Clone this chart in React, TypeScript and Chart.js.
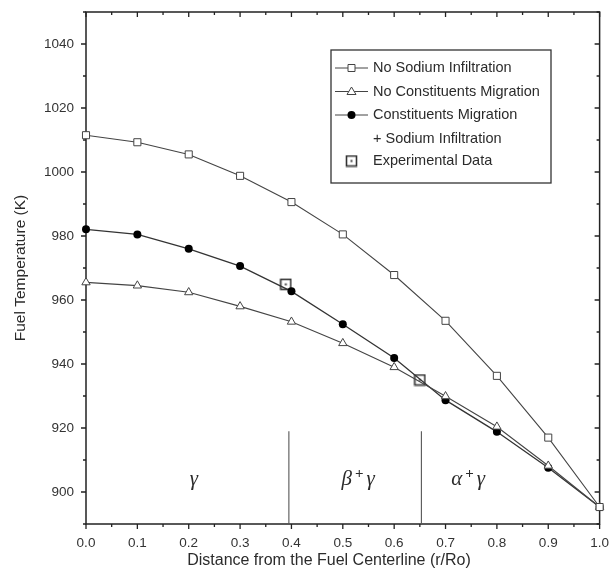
import React, { useEffect, useRef } from 'react';
import { Chart, registerables } from 'chart.js';
Chart.register(...registerables);

const positions = [0.0, 0.1, 0.2, 0.3, 0.4, 0.5, 0.6, 0.7, 0.8, 0.9, 1.0];
const noSodium = [1011.5, 1009.3, 1005.5, 998.8, 990.6, 980.5, 967.8, 953.5, 936.3, 917.0, 895.3];
const noMigration = [965.5, 964.5, 962.4, 958.0, 953.2, 946.5, 939.0, 929.9, 920.4, 908.2, 895.3];
const migrationSodium = [982.1, 980.5, 976.0, 970.6, 962.7, 952.4, 941.9, 928.7, 918.8, 907.6, 895.3];
const expX = [0.389, 0.65];
const expT = [964.9, 935.0];
const boundaryX = [0.395, 0.653];
const boundaryTop = 919;
const yMin = 890;
const yMax = 1050;
const xTickValues = [0, 0.1, 0.2, 0.3, 0.4, 0.5, 0.6, 0.7, 0.8, 0.9, 1.0];
const xMinorValues = [0.05, 0.15, 0.25, 0.35, 0.45, 0.55, 0.65, 0.75, 0.85, 0.95];
const yTickValues = [900, 920, 940, 960, 980, 1000, 1020, 1040];
const yMinorValues = [890, 910, 930, 950, 970, 990, 1010, 1030, 1050];
const phaseLeft = ['γ', 'β', 'α'];
const phaseHasPlus = [false, true, true];
const phaseCenters = [0.21, 0.53, 0.744];
const phaseT = 904;
const legendLabels = ['No Sodium Infiltration', 'No Constituents Migration', 'Constituents Migration', '+ Sodium Infiltration', 'Experimental Data'];

const SANS = "'Liberation Sans', Arial, sans-serif";
const SERIF = "'Liberation Serif', 'Times New Roman', serif";
const INK = '#2b2b2b';
const LINE = '#444';

function makeExpMarker(): HTMLCanvasElement {
  const c = document.createElement('canvas');
  c.width = 13; c.height = 13;
  const g = c.getContext('2d')!;
  g.strokeStyle = '#333';
  g.lineWidth = 1.6;
  g.strokeRect(1.5, 1.5, 10, 10);
  g.fillStyle = '#444';
  g.fillRect(5.5, 5.5, 2, 2);
  return c;
}

function drawSquare(ctx: CanvasRenderingContext2D, x: number, y: number) {
  ctx.save();
  ctx.fillStyle = '#fff'; ctx.strokeStyle = LINE; ctx.lineWidth = 1;
  ctx.beginPath(); ctx.rect(x - 3.5, y - 3.5, 7, 7); ctx.fill(); ctx.stroke();
  ctx.restore();
}
function drawTriangle(ctx: CanvasRenderingContext2D, x: number, y: number) {
  ctx.save();
  ctx.fillStyle = '#fff'; ctx.strokeStyle = LINE; ctx.lineWidth = 1;
  ctx.beginPath(); ctx.moveTo(x, y - 4.5); ctx.lineTo(x + 4.5, y + 3); ctx.lineTo(x - 4.5, y + 3); ctx.closePath(); ctx.fill(); ctx.stroke();
  ctx.restore();
}
function drawDot(ctx: CanvasRenderingContext2D, x: number, y: number) {
  ctx.save();
  ctx.fillStyle = '#000';
  ctx.beginPath(); ctx.arc(x, y, 4, 0, Math.PI * 2); ctx.fill();
  ctx.restore();
}

const framePlugin = {
  id: 'frame',
  beforeDatasetsDraw(chart: any) {
    const ctx: CanvasRenderingContext2D = chart.ctx;
    const { left, right, top, bottom } = chart.chartArea;
    const xs = chart.scales.x;
    const ys = chart.scales.y;
    ctx.save();
    ctx.strokeStyle = '#222';
    ctx.lineWidth = 1.5;
    ctx.strokeRect(left, top, right - left, bottom - top);
    ctx.lineWidth = 1.3;
    ctx.beginPath();
    xTickValues.forEach(v => {
      const px = xs.getPixelForValue(v);
      ctx.moveTo(px, bottom); ctx.lineTo(px, bottom + 5);
      ctx.moveTo(px, top); ctx.lineTo(px, top + 5);
    });
    xMinorValues.forEach(v => {
      const px = xs.getPixelForValue(v);
      ctx.moveTo(px, bottom); ctx.lineTo(px, bottom + 3);
      ctx.moveTo(px, top); ctx.lineTo(px, top + 3);
    });
    yTickValues.forEach(v => {
      const py = ys.getPixelForValue(v);
      ctx.moveTo(left, py); ctx.lineTo(left - 5, py);
      ctx.moveTo(right, py); ctx.lineTo(right - 5, py);
    });
    yMinorValues.forEach(v => {
      const py = ys.getPixelForValue(v);
      ctx.moveTo(left, py); ctx.lineTo(left - 3, py);
      ctx.moveTo(right, py); ctx.lineTo(right - 3, py);
    });
    ctx.stroke();
    ctx.restore();
  },
  afterDraw(chart: any) {
    const ctx: CanvasRenderingContext2D = chart.ctx;
    const { top, bottom } = chart.chartArea;
    const xs = chart.scales.x;
    const ys = chart.scales.y;
    ctx.save();
    // axis titles
    ctx.fillStyle = INK;
    ctx.font = `16px ${SANS}`;
    ctx.textAlign = 'center';
    ctx.textBaseline = 'middle';
    ctx.fillText('Distance from the Fuel Centerline (r/Ro)', 329, 561);
    ctx.font = `15.5px ${SANS}`;
    ctx.save();
    ctx.translate(21, (top + bottom) / 2);
    ctx.rotate(-Math.PI / 2);
    ctx.fillText('Fuel Temperature (K)', 0, 0);
    ctx.restore();

    // phase labels
    phaseLeft.forEach((ch, i) => {
      const cx = xs.getPixelForValue(phaseCenters[i]);
      const cy = ys.getPixelForValue(phaseT);
      ctx.textBaseline = 'middle';
      if (!phaseHasPlus[i]) {
        ctx.font = `italic 21px ${SERIF}`;
        ctx.textAlign = 'center';
        ctx.fillText(ch, cx, cy);
      } else {
        ctx.font = `italic 21px ${SERIF}`;
        const w1 = ctx.measureText(ch).width;
        const w3 = ctx.measureText('γ').width;
        ctx.font = `bold 15px ${SERIF}`;
        const w2 = ctx.measureText('+').width;
        const gap = 3;
        const total = w1 + w2 + w3 + gap * 2;
        let x0 = cx - total / 2;
        ctx.textAlign = 'left';
        ctx.font = `italic 21px ${SERIF}`;
        ctx.fillText(ch, x0, cy);
        x0 += w1 + gap;
        ctx.font = `bold 15px ${SERIF}`;
        ctx.fillText('+', x0, cy - 5);
        x0 += w2 + gap;
        ctx.font = `italic 21px ${SERIF}`;
        ctx.fillText('γ', x0, cy);
      }
    });

    // legend
    const bx = 331, by = 50, bw = 220, bh = 133;
    ctx.fillStyle = '#fff';
    ctx.fillRect(bx, by, bw, bh);
    ctx.strokeStyle = '#333';
    ctx.lineWidth = 1.3;
    ctx.strokeRect(bx, by, bw, bh);
    const rows = [68, 91.5, 115, 138.5, 161];
    ctx.strokeStyle = LINE;
    ctx.lineWidth = 1;
    for (let i = 0; i < 3; i++) {
      ctx.beginPath(); ctx.moveTo(335, rows[i]); ctx.lineTo(368, rows[i]); ctx.stroke();
    }
    drawSquare(ctx, 351.5, rows[0]);
    drawTriangle(ctx, 351.5, rows[1]);
    drawDot(ctx, 351.5, rows[2]);
    ctx.drawImage(makeExpMarker(), 351.5 - 6.5, rows[4] - 6.5);
    ctx.fillStyle = INK;
    ctx.font = `14.5px ${SANS}`;
    ctx.textAlign = 'left';
    ctx.textBaseline = 'middle';
    legendLabels.forEach((t, i) => ctx.fillText(t, 373, rows[i]));
    ctx.restore();
  },
};

export default function App() {
  const ref = useRef<HTMLCanvasElement>(null);
  useEffect(() => {
    document.body.style.margin = '0';
    const exp = makeExpMarker();
    const boundaryDatasets = boundaryX.map(bxv => ({
      label: 'boundary',
      data: [{ x: bxv, y: boundaryTop }, { x: bxv, y: yMin }],
      borderColor: '#555',
      borderWidth: 1.1,
      pointRadius: 0,
      showLine: true,
    }));
    const chart = new Chart(ref.current!, {
      type: 'scatter',
      data: {
        datasets: [
          ...boundaryDatasets,
          {
            label: 'No Sodium Infiltration',
            data: positions.map((x, i) => ({ x, y: noSodium[i] })),
            showLine: true,
            clip: false,
            borderColor: LINE,
            borderWidth: 1.1,
            pointStyle: 'rect',
            pointRadius: 5,
            pointBackgroundColor: '#fff',
            pointBorderColor: LINE,
            pointBorderWidth: 1,
          },
          {
            label: 'No Constituents Migration',
            data: positions.map((x, i) => ({ x, y: noMigration[i] })),
            showLine: true,
            clip: false,
            borderColor: LINE,
            borderWidth: 1.1,
            pointStyle: 'triangle',
            pointRadius: 4.8,
            pointBackgroundColor: '#fff',
            pointBorderColor: LINE,
            pointBorderWidth: 1,
          },
          {
            label: 'Constituents Migration + Sodium Infiltration',
            data: positions.map((x, i) => ({ x, y: migrationSodium[i] })),
            showLine: true,
            clip: false,
            borderColor: '#333',
            borderWidth: 1.3,
            pointStyle: 'circle',
            pointRadius: 4,
            pointBackgroundColor: '#000',
            pointBorderColor: '#000',
            pointBorderWidth: 0,
          },
          {
            label: 'Experimental Data',
            data: expX.map((x, i) => ({ x, y: expT[i] })),
            showLine: false,
            clip: false,
            pointStyle: exp as any,
            pointRadius: 6,
          },
        ],
      },
      options: {
        animation: false,
        responsive: false,
        maintainAspectRatio: false,
        layout: { padding: { left: 0, top: 12, right: 9.5, bottom: 0 } },
        plugins: { legend: { display: false }, tooltip: { enabled: false } },
        scales: {
          x: {
            type: 'linear',
            min: 0,
            max: 1,
            afterBuildTicks: (s: any) => { s.ticks = xTickValues.map(v => ({ value: v })); },
            afterFit: (s: any) => { s.height = 50; },
            grid: { display: true, drawOnChartArea: false, drawTicks: true, tickLength: 8, color: 'transparent' },
            border: { display: false },
            ticks: {
              padding: 3,
              color: '#333',
              font: { family: SANS, size: 13.5 },
              maxRotation: 0,
              callback: (v: any) => Number(v).toFixed(1),
            },
          },
          y: {
            type: 'linear',
            min: yMin,
            max: yMax,
            afterBuildTicks: (s: any) => { s.ticks = yTickValues.map(v => ({ value: v })); },
            afterFit: (s: any) => { s.width = 86; },
            grid: { display: true, drawOnChartArea: false, drawTicks: true, tickLength: 12, color: 'transparent' },
            border: { display: false },
            ticks: {
              padding: 0,
              color: '#333',
              font: { family: SANS, size: 13.5 },
              callback: (v: any) => String(v),
            },
          },
        },
      },
      plugins: [framePlugin],
    });
    return () => chart.destroy();
  }, []);
  return (
    <div style={{ position: 'absolute', left: 0, top: 0, width: 612, height: 574, background: '#fff' }}>
      <canvas ref={ref} width={612} height={574} style={{ width: 612, height: 574 }} />
    </div>
  );
}
